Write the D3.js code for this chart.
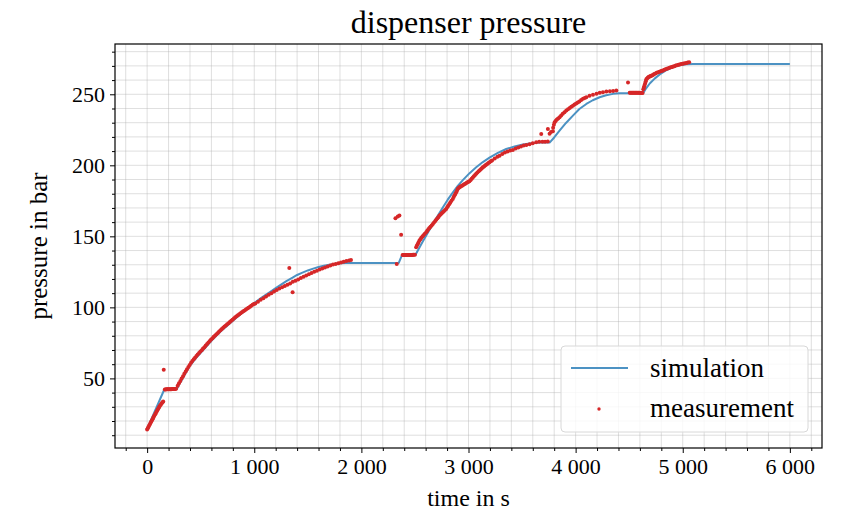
<!DOCTYPE html>
<html>
<head>
<meta charset="utf-8">
<script src="https://cdn.jsdelivr.net/npm/d3@7"></script>
<style>
  body { margin: 0; background: #fff; }
  svg text { font-family: "Liberation Serif", "Times New Roman", serif; fill: #000; }
</style>
</head>
<body>
<script>
// simulated dispenser pressure (time in s, pressure in bar)
let simTime = [0, 159, 277, 300, 330, 360, 400, 450, 500, 550, 600, 650, 700, 750, 800, 850, 900, 950,
  1000, 1050, 1100, 1150, 1200, 1250, 1300, 1358, 1400, 1450, 1500, 1550, 1600, 1650, 1700, 1750, 1800, 1850, 1900,
  2349, 2380, 2505, 2540, 2573, 2620, 2667, 2713, 2760, 2806, 2853, 2900, 2947, 3010, 3072, 3134, 3196, 3274, 3352,
  3430, 3508, 3586, 3664, 3757, 3800, 3850, 3910, 3975, 4035, 4100, 4160, 4224, 4285, 4349, 4410, 4474, 4630,
  4660, 4692, 4740, 4785, 4850, 4910, 4970, 5035, 5097, 6000];
let simPressure = [14.5, 42.0, 42.5, 45.8, 49.8, 53.8, 59, 63.8, 68, 72.3, 76.5, 80.3, 84, 87.3, 90.5, 93.8, 97, 100,
  103, 105.8, 108.5, 111, 113.5, 116, 118.5, 121, 122.8, 124.5, 126, 127.3, 128.4, 129.3, 130, 130.6, 131, 131.2, 131.3,
  131.3, 137, 137, 141.8, 146.3, 152.6, 158.6, 164.5, 170.3, 175.8, 180.8, 185.5, 189.6, 194.5, 198.6, 202.3, 205.4, 208.8, 211.5,
  213.3, 214.6, 215.5, 216, 216, 219.6, 224.4, 229.8, 235, 239.6, 243.2, 245.8, 247.9, 249.3, 250.3, 250.7, 250.8, 250.8,
  254.4, 257.6, 261.2, 264, 267.1, 269.1, 270.4, 271.1, 271.4, 271.4];

// measured values [time, pressure]
let measurement = [
  [0,14.0],[6,14.9],[12,15.8],[18,16.7],[25,17.6],[31,18.6],[38,19.5],[44,20.4],[50,21.2],[56,22.1],[62,23],[68,23.9],
  [75,24.8],[81,25.7],[88,26.6],[94,27.4],[100,28.2],[106,29],[112,29.8],[118,30.6],[125,31.3],[131,32],[138,32.6],
  [144,33.2],[150,33.8],
  [155,56.1],
  [165,42.2],[172,42.2],[180,42.3],[188,42.3],[195,42.3],[202,42.4],[210,42.4],[218,42.4],[225,42.4],[232,42.5],
  [240,42.5],[248,42.6],[255,42.6],[262,42.6],[270,42.7],
  [285,44.8],[297,46.5],[310,48.2],[322,49.9],[335,51.5],[347,53.2],[360,54.8],[372,56.4],[385,58.0],[397,59.5],
  [410,61.0],[422,62.2],[435,63.4],[447,64.6],[460,65.8],[472,66.8],[485,67.8],[497,68.9],[510,69.9],[522,71],
  [535,72.0],[547,73.1],[560,74.2],[572,75.3],[585,76.3],[597,77.3],[610,78.3],[622,79.3],[635,80.2],[647,81.1],
  [660,82.0],[672,83],[685,83.9],[697,84.8],[710,85.7],[722,86.5],[735,87.3],[747,88.1],[760,88.9],[772,89.7],
  [785,90.5],[797,91.3],[810,92.1],[822,93],[835,93.8],[847,94.5],[860,95.2],[872,95.9],[885,96.5],[897,97.2],
  [910,97.8],[922,98.5],[935,99.2],[947,99.8],[960,100.4],[972,101.1],[985,101.8],[997,102.3],[1010,102.8],
  [1035,104.0],[1060,105.3],[1085,106.5],[1110,107.6],[1135,108.8],[1160,110.0],[1185,111.1],[1210,112.2],[1235,113.2],
  [1260,114.2],[1285,115.1],[1310,115.9],[1335,116.8],[1360,118.0],[1385,118.7],[1410,119.6],[1435,120.6],[1460,121.5],
  [1485,122.4],[1510,123.3],[1535,124.2],[1560,125.0],[1585,125.8],[1610,126.6],[1635,127.4],[1660,128.1],[1685,128.8],
  [1710,129.5],[1735,130.1],[1760,130.6],[1785,131.1],[1810,131.6],[1835,132.1],[1860,132.6],[1885,133.0],[1903,133.4],
  [1327,127.7],[1358,110.7],
  [2330,130.6],[2318,162.7],[2340,163.9],[2355,164.6],[2371,151.2],
  [2385,136.8],[2393,136.8],[2400,136.9],[2408,136.9],[2415,136.9],[2422,136.9],[2430,136.9],[2438,136.9],[2445,136.9],
  [2452,136.9],[2460,136.9],[2468,136.9],[2475,136.9],[2482,137.0],[2490,137.0],[2500,137.0],
  [2511,142.3],[2518,143.4],[2525,144.5],[2533,145.7],[2542,147],[2551,148],[2560,149],[2570,149.9],[2580,150.8],
  [2592,151.8],[2605,152.8],[2615,153.9],[2625,155],[2635,155.9],[2645,156.8],[2656,157.7],[2667,158.7],[2678,159.7],
  [2690,160.8],[2700,161.8],[2710,162.8],[2720,163.7],[2729,164.6],[2740,165.4],[2750,166.2],[2760,167],[2770,167.7],
  [2781,168.5],[2792,169.3],[2801,170.4],[2810,171.5],[2820,172.6],[2830,173.8],[2841,175],[2853,176.3],[2862,177.7],
  [2870,179],[2878,180],[2885,181],[2893,182.3],[2900,183.5],[2908,184],[2916,184.5],[2923,184.9],[2930,185.2],
  [2940,185.7],[2950,186.2],[2960,186.6],[2970,187],[2980,187.5],[2990,188],[3000,188.4],[3009,188.8],[3020,189.7],
  [3030,190.6],[3040,191.5],[3050,192.3],[3061,193.2],[3072,194],[3083,194.9],[3095,195.8],[3105,196.5],[3115,197.2],
  [3125,197.9],[3134,198.6],[3145,199.2],[3155,199.8],[3165,200.4],[3175,201],[3186,201.6],[3196,202.1],[3208,202.8],
  [3220,203.4],[3245,204.8],[3270,206],[3290,206.8],[3315,207.9],[3340,209],[3365,209.8],[3390,210.4],[3414,210.8],
  [3440,211.8],[3465,212.6],[3490,213.3],[3515,213.9],[3540,214.3],[3570,214.8],[3600,215.6],[3632,216.2],[3660,216.5],
  [3690,216.6],[3715,216.6],[3740,216.7],
  [3679,222.0],[3741,225.6],[3757,222.3],[3788,224],
  [3770,223.5],[3790,226.5],[3797,228.5],[3804,230.3],[3815,231.3],[3825,232.2],[3837,233],[3850,233.8],[3865,235],
  [3880,236.3],[3896,237.4],[3913,238.5],[3929,239.5],[3945,240.4],[3960,241.2],[3975,242],[3990,242.8],[4005,243.6],
  [4020,244.3],[4035,245],[4052,245.9],[4069,246.8],[4085,247.4],[4100,248],[4130,248.9],[4162,249.6],[4195,250.4],
  [4225,251.1],[4255,251.5],[4287,251.9],[4320,252.2],[4350,252.4],[4380,252.6],
  [4489,258.3],
  [4505,251.1],[4512,251.1],[4520,251.1],[4528,251.0],[4535,251.0],[4542,251.0],[4550,251.0],[4558,251.0],[4565,251.0],
  [4572,251.0],[4580,251.0],[4588,251.0],[4595,251.0],[4602,250.9],[4610,250.9],[4618,250.9],[4625,250.9],
  [4632,253.5],[4636,254.5],[4640,255.5],[4645,256.7],[4650,258],[4655,259.2],[4660,260.5],[4667,261.2],[4675,261.8],
  [4682,262.2],[4690,262.5],[4697,262.7],[4705,263],[4713,263.3],[4722,263.6],[4733,264.2],[4745,264.7],[4757,265.2],
  [4770,265.6],[4782,265.9],[4795,266.2],[4805,266.5],[4816,266.8],[4828,267.2],[4840,267.6],[4852,268],[4865,268.3],
  [4877,268.6],[4890,269],[4900,269.2],[4910,269.5],[4922,269.8],[4935,270.2],[4947,270.5],[4960,270.8],[4972,271],
  [4985,271.3],[4997,271.5],[5010,271.7],[5022,271.9],[5035,272.1],[5047,272.3],[5060,272.5]
];

let xTicks = [0, 1000, 2000, 3000, 4000, 5000, 6000];
let xTickLabels = ["0", "1 000", "2 000", "3 000", "4 000", "5 000", "6 000"];
let yTicks = [50, 100, 150, 200, 250];
let seriesNames = ["simulation", "measurement"];

let width = 843, height = 517;
let margin = {top: 44, right: 21, bottom: 69, left: 115};

let svg = d3.select("body").append("svg")
  .attr("width", width)
  .attr("height", height);

let x = d3.scaleLinear().domain([-300, 6300]).range([margin.left, width - margin.right]);
let y = d3.scaleLinear().domain([1.0, 285.4]).range([height - margin.bottom, margin.top]);

let simColor = "#4c92c3", measColor = "#d62728";

// grid at every major and minor tick
let xGrid = d3.range(-200, 6300, 200);
let yGrid = d3.range(10, 285, 10);
let grid = svg.append("g").attr("stroke", "#b0b0b0").attr("stroke-opacity", 0.4).attr("stroke-width", 1);
grid.selectAll("line.v").data(xGrid).enter().append("line")
  .attr("x1", d => x(d)).attr("x2", d => x(d))
  .attr("y1", margin.top).attr("y2", height - margin.bottom);
grid.selectAll("line.h").data(yGrid).enter().append("line")
  .attr("x1", margin.left).attr("x2", width - margin.right)
  .attr("y1", d => y(d)).attr("y2", d => y(d));

// data
let simData = simTime.map((t, i) => [t, simPressure[i]]);
let line = d3.line().x(d => x(d[0])).y(d => y(d[1]));

svg.append("path").datum(simData)
  .attr("d", line)
  .attr("fill", "none")
  .attr("stroke", simColor)
  .attr("stroke-width", 2)
  .attr("stroke-linejoin", "round");

svg.append("g").selectAll("circle")
  .data(measurement)
  .enter().append("circle")
    .attr("cx", d => x(d[0]))
    .attr("cy", d => y(d[1]))
    .attr("r", 2)
    .attr("fill", measColor);

// axes
let xAxis = d3.axisBottom(x).tickValues(xTicks).tickFormat((d, i) => xTickLabels[i]).tickSize(5).tickPadding(5);
let xMinor = d3.axisBottom(x).tickValues(xGrid.filter(d => d % 1000 != 0)).tickFormat("").tickSize(3);
let yAxis = d3.axisLeft(y).tickValues(yTicks).tickSize(5).tickPadding(5);
let yMinor = d3.axisLeft(y).tickValues(yGrid.filter(d => d % 50 != 0)).tickFormat("").tickSize(3);

[[xAxis, "b"], [xMinor, "b"], [yAxis, "l"], [yMinor, "l"]].forEach(([ax, side]) => {
  let g = svg.append("g")
    .attr("transform", side == "b" ? `translate(0,${height - margin.bottom})` : `translate(${margin.left},0)`)
    .call(ax);
  g.select(".domain").remove();
  g.selectAll("line").attr("stroke", "#000").attr("stroke-width", 1);
  g.selectAll("text").style("font-size", "22px").style("font-family", "Liberation Serif");
});

// frame
svg.append("rect")
  .attr("x", margin.left).attr("y", margin.top)
  .attr("width", width - margin.left - margin.right)
  .attr("height", height - margin.top - margin.bottom)
  .attr("fill", "none").attr("stroke", "#000").attr("stroke-width", 1.2);

// titles
svg.append("text").attr("x", (margin.left + width - margin.right) / 2).attr("y", 33)
  .attr("text-anchor", "middle").style("font-size", "32px").text("dispenser pressure");
svg.append("text").attr("x", (margin.left + width - margin.right) / 2).attr("y", 506)
  .attr("text-anchor", "middle").style("font-size", "24px").text("time in s");
svg.append("text").attr("transform", `translate(47,${(margin.top + height - margin.bottom) / 2}) rotate(-90)`)
  .attr("text-anchor", "middle").style("font-size", "25px").text("pressure in bar");

// legend
let lg = svg.append("g").attr("transform", "translate(561,346)");
lg.append("rect").attr("width", 247).attr("height", 86).attr("rx", 4)
  .attr("fill", "#fff").attr("fill-opacity", 0.8).attr("stroke", "#d8d8d8");
lg.append("line").attr("x1", 10).attr("x2", 67).attr("y1", 22).attr("y2", 22)
  .attr("stroke", simColor).attr("stroke-width", 2);
lg.append("circle").attr("cx", 38).attr("cy", 63).attr("r", 1.7).attr("fill", measColor);
lg.selectAll("text.lab").data(seriesNames).enter().append("text")
  .attr("x", 89).attr("y", (d, i) => 31 + i * 40)
  .style("font-size", "27px").text(d => d);
</script>
</body>
</html>
